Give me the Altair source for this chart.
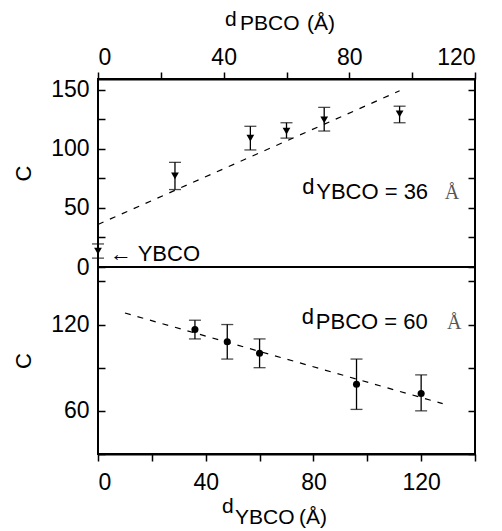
import altair as alt
import pandas as pd

FONT = "Liberation Sans"
FS = 23
AFS = 22

# ---------------- top panel: d_YBCO = 36 Å, x = d_PBCO (Å)
top_x = [0, 24.5, 48.5, 60, 72, 96]
top_c = [13.5, 77, 109, 115, 124.5, 129.5]
top_lo = [7.5, 65.5, 99, 109, 115, 122]
top_hi = [19.5, 88.5, 119, 122, 135, 136]
top_fit_x = [0, 96]
top_fit_c = [36, 149]

# ---------------- bottom panel: d_PBCO = 60 Å, x = d_YBCO (Å)
bot_x = [36, 48, 60, 96, 120]
bot_c = [116.5, 108, 100, 78.5, 72]
bot_lo = [110, 96, 90, 61, 60]
bot_hi = [123, 120, 110, 96, 85]
bot_fit_x = [10, 128]
bot_fit_c = [128, 65]

# ticks
top_xticks = [0, 20, 40, 60, 80, 100, 120]
top_yticks = [0, 25, 50, 75, 100, 125, 150]
bot_xticks = [0, 20, 40, 60, 80, 100, 120, 140]
bot_yticks = [30, 60, 90, 120, 150]

# annotations
top_note_x, top_note_c = [65], [57.5]
top_note_ang_x = [110.4]
ybco_x, ybco_c = [3.8], [11]
bot_note_x, bot_note_c = [75.7], [117]
bot_note_ang_x = [129.6]

W = 377
H_TOP = 188
H_BOT = 187

top_df = pd.DataFrame({"x": top_x, "c": top_c, "lo": top_lo, "hi": top_hi})
top_fit = pd.DataFrame({"x": top_fit_x, "c": top_fit_c})
bot_df = pd.DataFrame({"x": bot_x, "c": bot_c, "lo": bot_lo, "hi": bot_hi})
bot_fit = pd.DataFrame({"x": bot_fit_x, "c": bot_fit_c})

xs_top = alt.Scale(domain=[0, 120], nice=False, zero=False)
ys_top = alt.Scale(domain=[0, 159], nice=False, zero=False)
xs_bot = alt.Scale(domain=[0, 140], nice=False, zero=False)
ys_bot = alt.Scale(domain=[30, 160], nice=False, zero=False)

top_x_axis = alt.Axis(orient="top", values=top_xticks, title=None,
                      labelExpr="datum.value % 40 === 0 ? datum.label : ''",
                      labelPadding=3, domainColor="black", domainWidth=2)
bot_x_axis = alt.Axis(orient="bottom", values=bot_xticks, title=None,
                      labelExpr="datum.value % 40 === 0 && datum.value < 140 ? datum.label : ''",
                      labelPadding=10, domainColor="black", domainWidth=2)

top_y_left = alt.Axis(orient="left", values=top_yticks, title="C",
                      labelExpr="datum.value % 50 === 0 ? datum.label : ''",
                      offset=-7, labelPadding=9, minExtent=47, maxExtent=47,
                      titlePadding=23, domainOpacity=0)
bot_y_left = alt.Axis(orient="left", values=bot_yticks, title="C",
                      labelExpr="datum.value % 60 === 0 ? datum.label : ''",
                      offset=-7, labelPadding=9, minExtent=47, maxExtent=47,
                      titlePadding=23, domainOpacity=0)
top_y_right = alt.Axis(orient="right", values=top_yticks, title=None,
                       labels=False, offset=-7, domainOpacity=0)
bot_y_right = alt.Axis(orient="right", values=bot_yticks, title=None,
                       labels=False, offset=-7, domainOpacity=0)


def text_layer(txt, x, y, size=21, dx=0, dy=0, font=FONT, color="black"):
    return alt.Chart(pd.DataFrame({"t": [txt]})).mark_text(
        align="left", baseline="alphabetic", font=font, fontSize=size,
        dx=dx, dy=dy, color=color
    ).encode(x=alt.value(x), y=alt.value(y), text="t:N")


def data_text(txt, xs, cs, xenc, yscale, size=AFS, dx=0, dy=0, font=FONT,
              color="black", baseline="alphabetic"):
    df = pd.DataFrame({"x": xs, "c": cs, "t": [txt] * len(xs)})
    return alt.Chart(df).mark_text(
        align="left", baseline=baseline, font=font, fontSize=size,
        dx=dx, dy=dy, color=color
    ).encode(x=xenc,
             y=alt.Y("c:Q", scale=yscale, axis=None), text="t:N")


x_top = alt.X("x:Q", scale=xs_top, axis=top_x_axis)
x_bot = alt.X("x:Q", scale=xs_bot, axis=bot_x_axis)

# ---------------- top chart
top_err = alt.Chart(top_df).mark_errorbar(
    ticks=True, size=12, thickness=1.3, color="black"
).encode(
    x=x_top,
    y=alt.Y("lo:Q", scale=ys_top, axis=None),
    y2="hi:Q",
)
top_pts = alt.Chart(top_df).mark_point(
    shape="triangle-down", filled=True, size=60, color="black", opacity=1
).encode(
    x=x_top,
    y=alt.Y("c:Q", scale=ys_top, axis=top_y_left),
)
top_line = alt.Chart(top_fit).mark_line(
    strokeDash=[6, 7], strokeWidth=1.2, color="black"
).encode(
    x=x_top,
    y=alt.Y("c:Q", scale=ys_top, axis=top_y_right),
)

top_chart = alt.layer(
    top_pts, top_line, top_err,
    data_text("d", top_note_x, top_note_c, x_top, ys_top, dy=-5),
    data_text("YBCO = 36", top_note_x, top_note_c, x_top, ys_top, dx=14),
    data_text("Å", top_note_ang_x, top_note_c, x_top, ys_top, size=20,
              font="Liberation Serif", color="#555"),
    data_text("← YBCO", ybco_x, ybco_c, x_top, ys_top, baseline="middle"),
    text_layer("d", 127, -53),
    text_layer("PBCO", 142, -49),
    text_layer("(Å)", 209, -49),
).resolve_axis(y="independent").properties(width=W, height=H_TOP)

# ---------------- bottom chart
bot_err = alt.Chart(bot_df).mark_errorbar(
    ticks=True, size=12, thickness=1.3, color="black"
).encode(
    x=x_bot,
    y=alt.Y("lo:Q", scale=ys_bot, axis=None),
    y2="hi:Q",
)
bot_pts = alt.Chart(bot_df).mark_circle(
    size=50, color="black", opacity=1
).encode(
    x=x_bot,
    y=alt.Y("c:Q", scale=ys_bot, axis=bot_y_left),
)
bot_line = alt.Chart(bot_fit).mark_line(
    strokeDash=[6, 7], strokeWidth=1.2, color="black"
).encode(
    x=x_bot,
    y=alt.Y("c:Q", scale=ys_bot, axis=bot_y_right),
)

bot_chart = alt.layer(
    bot_pts, bot_line, bot_err,
    data_text("d", bot_note_x, bot_note_c, x_bot, ys_bot, dy=-5),
    data_text("PBCO = 60", bot_note_x, bot_note_c, x_bot, ys_bot, dx=14),
    data_text("Å", bot_note_ang_x, bot_note_c, x_bot, ys_bot, size=20,
              font="Liberation Serif", color="#555"),
    text_layer("d", 124, H_BOT + 59),
    text_layer("YBCO", 137, H_BOT + 70),
    text_layer("(Å)", 201, H_BOT + 70),
).resolve_axis(y="independent").properties(width=W, height=H_BOT)

chart = alt.vconcat(top_chart, bot_chart, spacing=0, bounds="flush").properties(
    padding={"left": 3, "top": 0, "right": 0, "bottom": 0},
    background="white",
).configure_view(
    stroke="black", strokeWidth=2
).configure_axis(
    grid=False, ticks=True, tickSize=7, tickWidth=1.5, tickColor="black",
    labelColor="black", labelFont=FONT, labelFontSize=FS,
    titleFont=FONT, titleFontSize=22, titleFontWeight="normal",
    titleColor="black",
)

chart.save("out.html", embed_options={"renderer": "svg", "actions": False})
